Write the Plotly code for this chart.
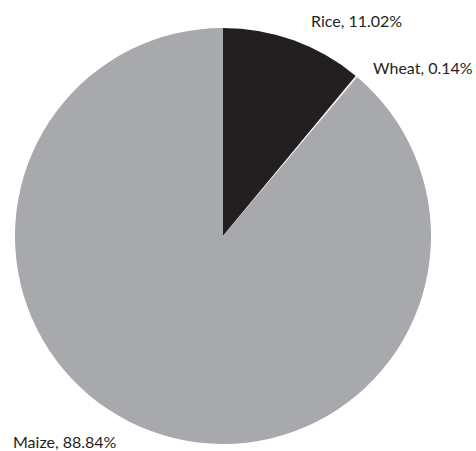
import plotly.graph_objects as go

labels = ["Rice", "Wheat", "Maize"]
values = [11.02, 0.14, 88.84]
colors = ["#231f20", "#f1f1f2", "#a7a9ac"]

W, H = 476, 451
fig = go.Figure(go.Pie(
    labels=labels, values=values, sort=False, direction="clockwise", rotation=0,
    marker=dict(colors=colors, line=dict(width=0)),
    textinfo="none", hoverinfo="label+percent", showlegend=False,
    domain=dict(x=[15 / W, 431 / W], y=[(H - 444) / H, (H - 28) / H]),
))

label_pos = [(309, 21), (371, 67), (11, 441)]
for (lab, val), (px, py) in zip(zip(labels, values), label_pos):
    fig.add_annotation(x=px / W, y=1 - py / H, xref="paper", yref="paper",
                       xanchor="left", yanchor="middle", showarrow=False,
                       text=f"{lab}, {val:.2f}%",
                       font=dict(family="Lato", size=16, color="#231f20"))

fig.update_layout(width=W, height=H, margin=dict(l=0, r=0, t=0, b=0),
                  paper_bgcolor="white", plot_bgcolor="white")
fig.write_html("out.html", config={"displayModeBar": False})

with open("out.html", encoding="utf-8") as f:
    html = f.read()
html = html.replace("<body>", '<body style="margin:0;padding:0;overflow:hidden">', 1)
with open("out.html", "w", encoding="utf-8") as f:
    f.write(html)
